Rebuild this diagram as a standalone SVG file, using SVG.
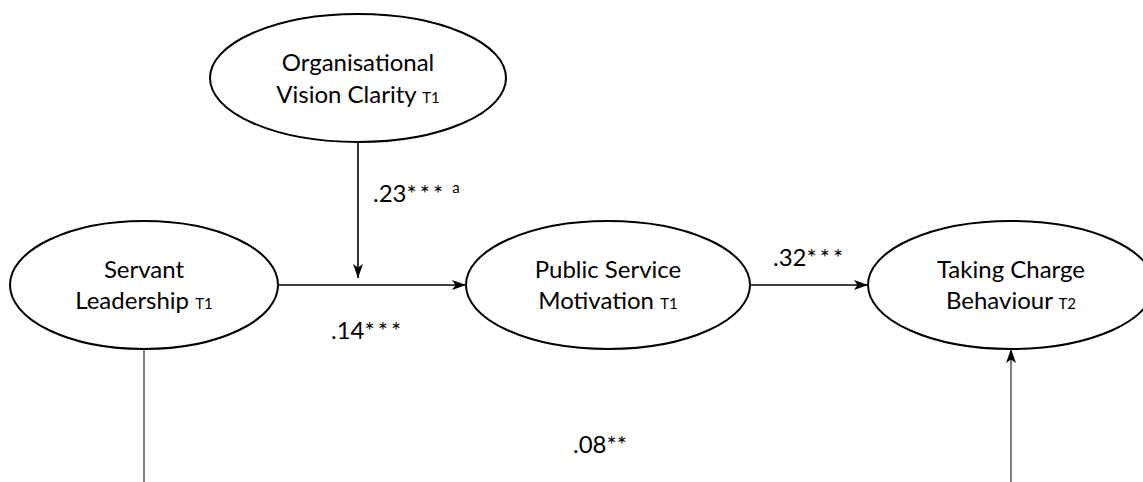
<svg xmlns="http://www.w3.org/2000/svg" width="1143" height="482" viewBox="0 0 1143 482">
<style>
.node{fill:#fff;stroke:#000;stroke-width:2}
.t{font-family:Lato,"Liberation Sans",sans-serif;font-size:24px;fill:#000;text-anchor:middle}
.sub{font-size:15px}
.lbl{font-family:Lato,"Liberation Sans",sans-serif;font-size:24px;fill:#000}
.ast{letter-spacing:3px}
.c{stroke:#000;stroke-width:1.6;fill:none}
.thin{stroke:#000;stroke-width:1;fill:none}
</style>
<defs>
<marker id="ah" viewBox="0 0 14 10" refX="14" refY="5" markerWidth="14" markerHeight="10" markerUnits="userSpaceOnUse" orient="auto">
<path d="M0,0 L14,5 L0,10 L3.5,5 z" fill="#000"/>
</marker>
</defs>
<g id="connectors">
<line class="c" x1="358" y1="142" x2="358" y2="278" marker-end="url(#ah)"/>
<line class="c" x1="278" y1="285" x2="466" y2="285" marker-end="url(#ah)"/>
<line class="c" x1="750" y1="285" x2="868" y2="285" marker-end="url(#ah)"/>
<line class="thin" x1="144" y1="349" x2="144" y2="482"/>
<line class="thin" x1="1011" y1="482" x2="1011" y2="349" marker-end="url(#ah)"/>
</g>
<g id="node-ovc">
<ellipse class="node" cx="358" cy="78" rx="148" ry="64"/>
<text class="t" x="358" y="71">Organisational</text>
<text class="t" x="358" y="103">Vision Clarity <tspan class="sub">T1</tspan></text>
</g>
<g id="node-sl">
<ellipse class="node" cx="144" cy="285" rx="134" ry="64"/>
<text class="t" x="144" y="278">Servant</text>
<text class="t" x="144" y="309">Leadership <tspan class="sub">T1</tspan></text>
</g>
<g id="node-psm">
<ellipse class="node" cx="608" cy="285" rx="142" ry="64"/>
<text class="t" x="608" y="278">Public Service</text>
<text class="t" x="608" y="309">Motivation <tspan class="sub">T1</tspan></text>
</g>
<g id="node-tcb">
<ellipse class="node" cx="1011" cy="285" rx="143" ry="64"/>
<text class="t" x="1011" y="278">Taking Charge</text>
<text class="t" x="1011" y="309">Behaviour <tspan class="sub">T2</tspan></text>
</g>
<g id="labels">
<text class="lbl" x="373" y="202">.23<tspan class="ast">***</tspan> <tspan font-size="15" dy="-9">a</tspan></text>
<text class="lbl" x="331" y="339">.14<tspan class="ast">***</tspan></text>
<text class="lbl" x="773" y="266">.32<tspan class="ast">***</tspan></text>
<text class="lbl" x="573" y="453">.08**</text>
</g>
</svg>
